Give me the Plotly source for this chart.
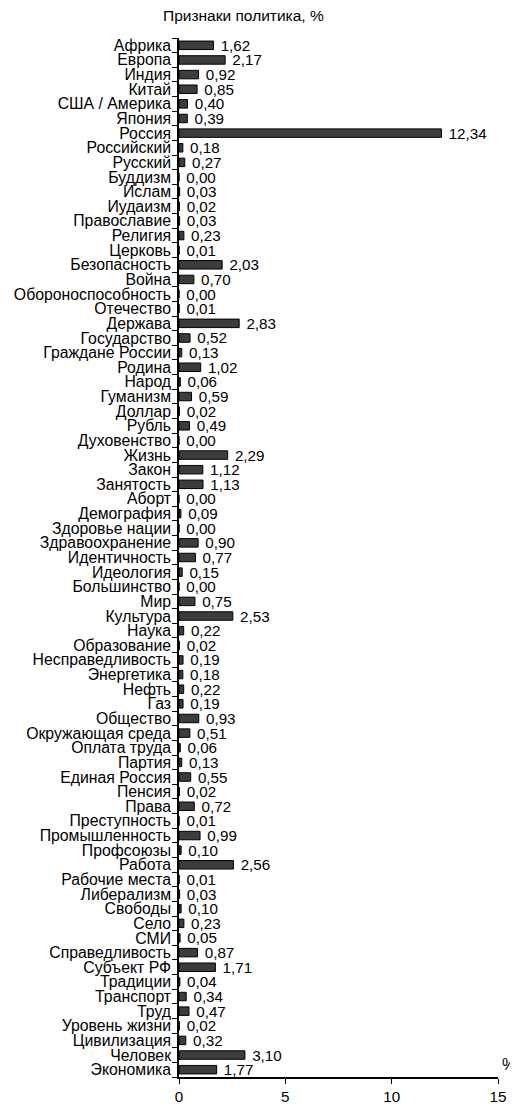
import plotly.graph_objects as go

categories = [
    "Африка", "Европа", "Индия", "Китай", "США / Америка", "Япония", "Россия",
    "Российский", "Русский", "Буддизм", "Ислам", "Иудаизм", "Православие",
    "Религия", "Церковь", "Безопасность", "Война", "Обороноспособность",
    "Отечество", "Держава", "Государство", "Граждане России", "Родина", "Народ",
    "Гуманизм", "Доллар", "Рубль", "Духовенство", "Жизнь", "Закон", "Занятость",
    "Аборт", "Демография", "Здоровье нации", "Здравоохранение", "Идентичность",
    "Идеология", "Большинство", "Мир", "Культура", "Наука", "Образование",
    "Несправедливость", "Энергетика", "Нефть", "Газ", "Общество",
    "Окружающая среда", "Оплата труда", "Партия", "Единая Россия", "Пенсия",
    "Права", "Преступность", "Промышленность", "Профсоюзы", "Работа",
    "Рабочие места", "Либерализм", "Свободы", "Село", "СМИ", "Справедливость",
    "Субъект РФ", "Традиции", "Транспорт", "Труд", "Уровень жизни",
    "Цивилизация", "Человек", "Экономика",
]
values = [
    1.62, 2.17, 0.92, 0.85, 0.40, 0.39, 12.34,
    0.18, 0.27, 0.00, 0.03, 0.02, 0.03,
    0.23, 0.01, 2.03, 0.70, 0.00,
    0.01, 2.83, 0.52, 0.13, 1.02, 0.06,
    0.59, 0.02, 0.49, 0.00, 2.29, 1.12, 1.13,
    0.00, 0.09, 0.00, 0.90, 0.77,
    0.15, 0.00, 0.75, 2.53, 0.22, 0.02,
    0.19, 0.18, 0.22, 0.19, 0.93,
    0.51, 0.06, 0.13, 0.55, 0.02,
    0.72, 0.01, 0.99, 0.10, 2.56,
    0.01, 0.03, 0.10, 0.23, 0.05, 0.87,
    1.71, 0.04, 0.34, 0.47, 0.02,
    0.32, 3.10, 1.77,
]
x_ticks = [0, 5, 10, 15]
title_text = "Признаки политика, %"
unit_text = "%"

labels = [" " + f"{v:.2f}".replace(".", ",") for v in values]

FONT = "Arial, 'Liberation Sans', sans-serif"
FS_CAT = 15.8
FS_VAL = 15.2
FS_TITLE = 15.5

# page body has an 8px default margin: figure sits at (8, 8)
fig = go.Figure(
    go.Bar(
        x=values,
        y=categories,
        orientation="h",
        marker=dict(color="#3c3c3c", line=dict(color="#000000", width=1)),
        text=labels,
        textposition="outside",
        constraintext="none",
        textfont=dict(family=FONT, size=FS_VAL, color="#000000"),
        cliponaxis=False,
    )
)

fig.update_layout(
    width=510,
    height=1096,
    margin=dict(l=171, r=20, t=30, b=27),
    paper_bgcolor="white",
    plot_bgcolor="white",
    bargap=0.42,
    showlegend=False,
    font=dict(family=FONT, size=FS_CAT, color="#000000"),
)

fig.update_xaxes(
    range=[0, 15],
    tickmode="array",
    tickvals=x_ticks,
    ticktext=[str(t) for t in x_ticks],
    showgrid=False,
    zeroline=False,
    showline=True,
    linecolor="#000000",
    linewidth=1.5,
    ticks="outside",
    ticklen=5,
    tickcolor="#000000",
    tickfont=dict(family=FONT, size=FS_VAL, color="#000000"),
    automargin=False,
)

fig.update_yaxes(
    autorange="reversed",
    type="category",
    tickmode="array",
    tickvals=categories,
    ticktext=categories,
    showgrid=False,
    zeroline=False,
    showline=True,
    linecolor="#000000",
    linewidth=1.5,
    ticks="outside",
    tickson="boundaries",
    ticklen=5,
    tickcolor="#000000",
    ticklabelstandoff=3,
    tickfont=dict(family=FONT, size=FS_CAT, color="#000000"),
    automargin=False,
)

fig.add_annotation(
    text=title_text,
    xref="paper", yref="paper",
    x=(235 - 171) / (510 - 171 - 20), y=1,
    xanchor="center", yanchor="bottom",
    yshift=12,
    showarrow=False,
    font=dict(family=FONT, size=FS_TITLE, color="#000000"),
)

fig.add_annotation(
    text=unit_text,
    xref="paper", yref="paper",
    x=1, y=0,
    xanchor="center", yanchor="bottom",
    xshift=11, yshift=2,
    showarrow=False,
    font=dict(family=FONT, size=16, color="#000000"),
)

fig.write_html("out.html")
